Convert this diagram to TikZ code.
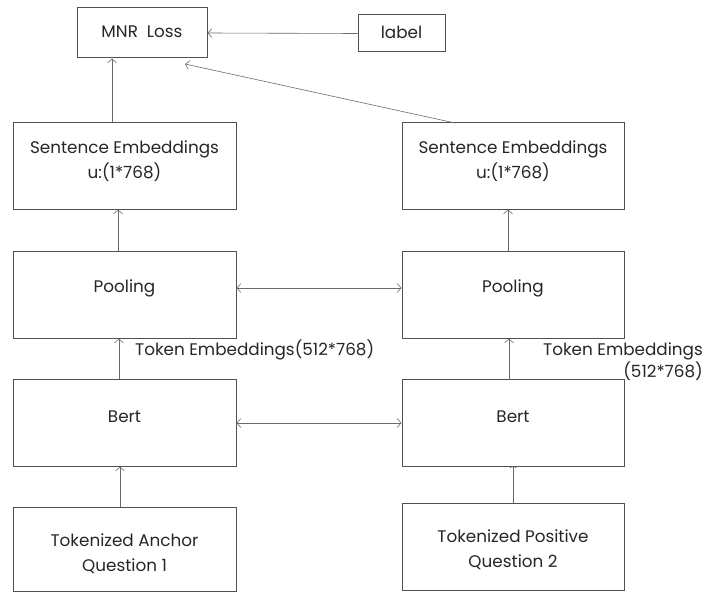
\documentclass[tikz,border=0pt]{standalone}
\usepackage{fontspec}
\setmainfont{Poppins}
\usetikzlibrary{arrows.meta}
\definecolor{boxc}{HTML}{505050}
\definecolor{arrc}{HTML}{6A6A6A}
\begin{document}
\begin{tikzpicture}[x=1pt,y=-1pt,
  box/.style={draw=boxc,line width=1pt,minimum width=#1,inner sep=0pt},
  box/.default=223pt,
  txt/.style={font=\fontsize{16.8}{25}\selectfont,text=black!85,align=center},
  conn/.style={draw=arrc,line width=0.6pt,-{Straight Barb[length=4pt,width=9pt]}},
  conn2/.style={draw=arrc,line width=0.6pt,{Straight Barb[length=4pt,width=9pt]}-{Straight Barb[length=4pt,width=9pt]}},
  lbl/.style={font=\fontsize{16.8}{25}\selectfont,text=black!85,inner sep=0pt}
]
\useasboundingbox (0,0) rectangle (705,594);
% boxes
\node[box=130pt,minimum height=50pt] (mnr) at (142,33) {};
\node[txt] (mnrt) at (142,32) {MNR\ \ Loss};
\node[box=87pt,minimum height=37pt] (lab) at (401.5,33.5) {};
\node[txt] (labt) at (401.5,32.5) {label};

\node[box=223pt,minimum height=86pt] (sel) at (124.5,166) {};
\node[txt] (selt) at (124.5,161.5) {Sentence Embeddings\\u:(1*768)};
\node[box=222pt,minimum height=86pt] (ser) at (513,166) {};
\node[txt] (sert) at (513,161.5) {Sentence Embeddings\\u:(1*768)};

\node[box=223pt,minimum height=87pt] (pl) at (124.5,294.5) {};
\node[txt] (plt) at (124.5,288.5) {Pooling};
\node[box=222pt,minimum height=87pt] (pr) at (513,294.5) {};
\node[txt] (prt) at (513,288.5) {Pooling};

\node[box=223pt,minimum height=87pt] (bl) at (124.5,422.5) {};
\node[txt] (blt) at (124.5,417) {Bert};
\node[box=222pt,minimum height=87pt] (br) at (513,422.5) {};
\node[txt] (brt) at (513,417) {Bert};

\node[box=223pt,minimum height=84pt] (ta) at (124.5,549) {};
\node[txt] (tat) at (124.5,554) {Tokenized Anchor\\Question 1};
\node[box=222pt,minimum height=87pt] (tp) at (513,546.5) {};
\node[txt] (tpt) at (513,550) {Tokenized Positive\\Question 2};

% labels
\node[lbl,anchor=west] (tel) at (135,350) {Token Embeddings(512*768)};
\node[lbl,anchor=east,align=right,font=\fontsize{16.8}{22}\selectfont] (ter) at (703,362) {Token Embeddings\\(512*768)};

% connectors
\draw[conn] (lab.west) -- (mnr.east);
\draw[conn] (sel.north -| 112,0) -- (mnr.south -| 112,0);
\coordinate (dgs) at (455,123);
\coordinate (dge) at (185,64);
\draw[conn] (dgs) -- (dge);
\draw[conn] (pl.north -| 118,0) -- (sel.south -| 118,0);
\draw[conn] (pr.north -| 508,0) -- (ser.south -| 508,0);
\draw[conn] (bl.north -| 119,0) -- (pl.south -| 119,0);
\draw[conn] (br.north -| 509,0) -- (pr.south -| 509,0);
\draw[conn] (ta.north -| 120,0) -- (bl.south -| 120,0);
\draw[draw=arrc,line width=0.6pt,-{Arc Barb[length=1.5pt,width=7pt]}] (tp.north -| 513,0) -- (br.south -| 513,0);
\draw[conn2] (pl.east) ++(0,-6.5) coordinate (pa) -- (pa -| pr.west);
\draw[conn2] (bl.east) ++(0,0.5) coordinate (ba) -- (ba -| br.west);
\end{tikzpicture}
\end{document}
